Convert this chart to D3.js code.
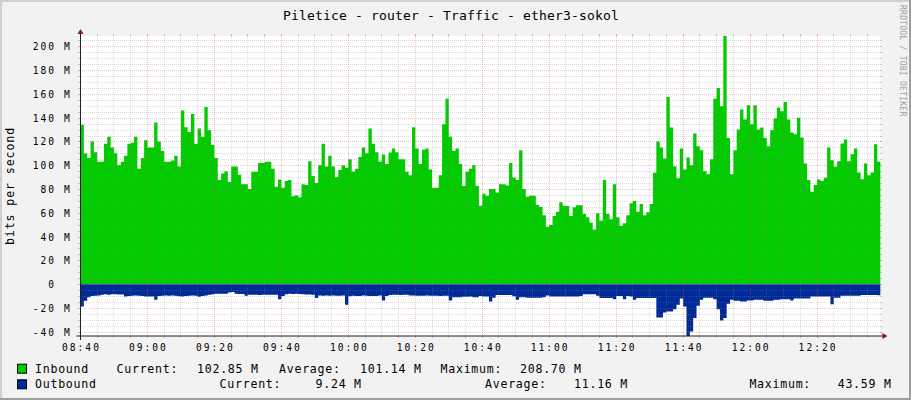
<!DOCTYPE html>
<html>
<head>
<meta charset="utf-8">
<script src="https://cdn.jsdelivr.net/npm/d3@7"></script>
<style>
  body { margin: 0; background: #f2f2f2; }
  svg text { font-family: "DejaVu Sans Mono", monospace; }
</style>
</head>
<body>
<svg id="chart" width="911" height="400"></svg>
<script>
// ---------------- DATA ----------------
const chartTitle = "Piletice - router - Traffic - ether3-sokol";
const yAxisTitle = "bits per second";
const watermark = "RRDTOOL / TOBI OETIKER";
const startHour = 8, startMinute = 40;   // first sample 08:40, one sample per minute
const spanMinutes = 238.95;             // visible time span

// Inbound traffic (Mbit/s), one value per minute from 08:40
const inbound = [
  134, 110, 106, 120, 111, 103, 103, 118, 124, 115,
  110, 100, 103, 108, 118, 119, 124, 97, 106, 121,
  115, 115, 136, 120, 112, 103, 103, 104, 108, 99,
  146, 132, 128, 143, 118, 131, 124, 149, 129.5, 117,
  106, 87.5, 93, 95, 86, 99, 99, 92, 84, 84,
  80, 94.5, 94.5, 102, 102, 103, 103, 97, 82, 88,
  81, 86.7, 87.5, 74, 74.7, 73, 84, 83.3, 103.4, 91,
  85, 100, 118, 99, 108, 99, 90, 96, 100, 98,
  105, 94.5, 97, 107, 115, 110, 131, 118, 111, 103,
  109, 101, 110.7, 114, 111, 105, 105, 94.5, 91.7, 132,
  114, 101, 113, 114, 96.5, 81, 81, 91.7, 134.5, 156,
  124, 112, 114, 101, 82.5, 94.5, 97, 100, 82.5, 66,
  76, 74.3, 80, 80, 77, 84, 84, 83, 102, 89.8,
  87.5, 112.7, 80, 73.5, 74.3, 74.3, 66.5, 65, 58, 48.3,
  49.7, 57.3, 61, 68.8, 66, 65.7, 57.3, 64.6, 66.3, 66.3,
  59, 56.2, 51.7, 46, 59.6, 53.4, 87.5, 59, 54.5, 84,
  56.2, 49, 51.2, 58, 68, 70, 61, 67.4, 58, 60.4,
  67.4, 93.6, 120, 115, 105.7, 157.4, 131.7, 99.2, 89, 114,
  96.5, 106.5, 100, 126.7, 116, 112.7, 95, 92.5, 105, 156,
  165, 149.6, 208.7, 123, 92.5, 112.7, 130, 146.8, 138.4, 150.4,
  134.5, 150.4, 130, 131.7, 123, 116, 129.4, 139.3, 148.5, 145.4,
  153.2, 138.4, 127.5, 126, 140, 123.3, 101.5, 87.5, 77.7, 83.3,
  88, 86.7, 89.4, 115, 104.3, 98.7, 103.4, 118.3, 121.6, 103.4,
  109.3, 114, 94, 88.3, 101.5, 91.7, 94, 117.7, 102.85
];

// Outbound traffic (Mbit/s), drawn below zero
const outbound = [
  18.8, 14, 11, 10, 9.8, 9.5, 9, 8.5, 8.8, 8.4,
  8.4, 8.6, 8.6, 10.4, 10, 9.8, 9.6, 9.8, 9.9, 10.4,
  10.4, 10.4, 13, 10, 9.8, 9.6, 9.8, 9.6, 9.8, 10.2,
  10.4, 10, 9.8, 9.6, 9.8, 10.6, 10, 9.6, 9, 8.4,
  8.1, 8.1, 8.1, 8.1, 7, 6.5, 8, 8.2, 8.2, 9.8,
  9, 9, 9, 9.2, 9, 9, 9, 8.8, 9, 12.6,
  10, 8.5, 8, 8.2, 8, 8.2, 8.4, 8.6, 8.6, 8.8,
  11.6, 9.5, 9.8, 9.6, 9.8, 9.6, 9.8, 9.8, 9.6, 17.4,
  10.2, 9.8, 10, 10, 9.6, 9.8, 10, 10, 10, 9.6,
  13.7, 10, 9.2, 9, 9, 9.2, 9, 9, 9.6, 9.6,
  9.8, 9.8, 9.8, 9.6, 9.8, 9.8, 9.8, 10, 9.8, 9.8,
  13.7, 11, 10.9, 10.9, 10.6, 10.6, 10.4, 10.9, 10.9, 10,
  10.4, 10.4, 14.6, 11.5, 9.2, 9.2, 9.2, 9.2, 9.2, 10.2,
  13.2, 11, 11, 11.5, 11.5, 11.5, 11.5, 11.5, 11, 9.6,
  10.4, 10.4, 10.4, 10.4, 10.4, 10.4, 10.4, 10.4, 10.4, 10,
  8.4, 8.4, 8.4, 8.4, 9.8, 11.7, 11.7, 11.7, 11.7, 12.6,
  10, 10, 12.6, 10, 10.4, 13.2, 11.7, 11.7, 11.7, 11.7,
  11.7, 11.7, 28, 28, 23.8, 23, 23, 21, 17.4, 12,
  18.8, 43.59, 39.8, 28.5, 18.2, 13.2, 11.5, 11.5, 11.5, 12.6,
  21, 30.5, 28.5, 16.5, 13.2, 14, 14, 14.6, 14.6, 13.7,
  13.7, 13.2, 13.2, 13.2, 14, 14, 14, 13.2, 13.2, 12.6,
  12.6, 12.6, 13.7, 12, 12, 12, 12, 12, 10.4, 10.4,
  10.4, 10.4, 10.4, 10.4, 16.8, 11.5, 11.5, 9.8, 9.8, 9.8,
  9.8, 9.8, 9.8, 9.2, 9.2, 9.2, 9.2, 9.2, 9.24
];

const yMajorTicks = [-40, -20, 0, 20, 40, 60, 80, 100, 120, 140, 160, 180, 200];
const yTickLabels = ["-40 M", "-20 M", "  0  ", " 20 M", " 40 M", " 60 M", " 80 M", "100 M", "120 M", "140 M", "160 M", "180 M", "200 M"];
const xTickLabels = ["08:40", "09:00", "09:20", "09:40", "10:00", "10:20", "10:40", "11:00", "11:20", "11:40", "12:00", "12:20"];

const seriesNames = ["Inbound", "Outbound"];
const seriesColors = ["#00CC00", "#002A97"];
const legendCurrent = ["102.85 M", "9.24 M"];
const legendAverage = ["101.14 M", "11.16 M"];
const legendMaximum = ["208.70 M", "43.59 M"];

// ---------------- LAYOUT ----------------
const W = 911, H = 400;
const X0 = 80.5, X1 = 880.5, Y0 = 336, Y1 = 36;
const C = {
  back: "#f2f2f2", shadeA: "#cfcfcf", shadeB: "#9e9e9e",
  grid: "rgba(143,143,143,0.3)", mgrid: "rgba(222,79,79,0.36)",
  gridTick: "rgba(143,143,143,0.5)", mgridTick: "rgba(222,79,79,0.5)",
  arrow: "#801f1f", axis: "#1f1f1f", font: "#000"
};

const svg = d3.select("#chart");
const defs = svg.append("defs");

// dotted-line patterns (1 px on, 1 px off)
function dotPattern(id, col, horiz) {
  const p = defs.append("pattern").attr("id", id).attr("patternUnits", "userSpaceOnUse")
    .attr("width", horiz ? 2 : 1).attr("height", horiz ? 1 : 2);
  p.append("rect").attr("width", 1).attr("height", 1).attr("fill", col);
}
dotPattern("hMinor", C.grid, true);
dotPattern("vMinor", C.grid, false);
dotPattern("hMajor", C.mgrid, true);
dotPattern("vMajor", C.mgrid, false);

// background + 3D frame
svg.append("rect").attr("x", 0).attr("y", 0).attr("width", W).attr("height", H).attr("fill", C.back);
svg.append("path").attr("d", `M0,0H${W}V2H2V${H}H0Z`).attr("fill", C.shadeA);
svg.append("path").attr("d", `M${W},${H}H0V${H - 2}H${W - 2}V0H${W}Z`).attr("fill", C.shadeB);

// canvas
svg.append("rect").attr("x", X0).attr("y", Y1).attr("width", X1 - X0).attr("height", Y0 - Y1).attr("fill", "#fff");

// scales
const t0 = new Date(2024, 0, 1, startHour, startMinute, 0);
const tAt = m => new Date(t0.getTime() + m * 60000);
const x = d3.scaleTime().domain([t0, tAt(spanMinutes)]).range([X0, X1]);
const y = d3.scaleLinear().domain([-d3.max(outbound), d3.max(inbound)]).range([Y0, Y1]);

defs.append("clipPath").attr("id", "plotclip")
  .append("rect").attr("x", X0).attr("y", Y1 - 1).attr("width", X1 - X0).attr("height", Y0 - Y1 + 1);

function series(vals, sign) {
  const pts = vals.map((v, i) => ({ t: tAt(i), v: sign * v }));
  pts.push({ t: tAt(vals.length), v: sign * vals[vals.length - 1] });
  return pts;
}
const area = d3.area().curve(d3.curveStepAfter)
  .x(d => x(d.t)).y0(y(0)).y1(d => y(d.v));

const plot = svg.append("g").attr("clip-path", "url(#plotclip)");
plot.append("path").attr("d", area(series(inbound, 1))).attr("fill", seriesColors[0]);
plot.append("path").attr("d", area(series(outbound, -1))).attr("fill", seriesColors[1]);

// grid (drawn on top of the data, like rrdtool)
const grid = svg.append("g").attr("shape-rendering", "crispEdges");
const [vmin, vmax] = y.domain();
const yMinor = d3.range(-40, vmax + 0.001, 5).filter(v => v >= vmin && v % 20 !== 0);
const xMinor = d3.timeMinute.every(5).range(t0, tAt(spanMinutes)).filter(d => d.getMinutes() % 20 !== 0);
const xMajor = d3.timeMinute.every(20).range(t0, tAt(spanMinutes));
const ry = v => Math.round(y(v));     // pixel row
const cx = t => Math.floor(x(t));     // pixel column
const gx0 = Math.ceil(X0), gx1 = Math.floor(X1);

function hline(v, pat, tick) {
  const r = ry(v);
  grid.append("rect").attr("x", gx0 + 1).attr("y", r).attr("width", gx1 - gx0 - 1).attr("height", 1)
    .attr("fill", `url(#${pat})`);
  grid.append("rect").attr("x", gx0 - 3).attr("y", r).attr("width", 2).attr("height", 1).attr("fill", tick);
  grid.append("rect").attr("x", gx1).attr("y", r).attr("width", 2).attr("height", 1).attr("fill", tick);
}
function vline(t, pat, tick) {
  const c = cx(t);
  grid.append("rect").attr("x", c).attr("y", Y1).attr("width", 1).attr("height", Y0 - Y1)
    .attr("fill", `url(#${pat})`);
  grid.append("rect").attr("x", c).attr("y", Y1 - 2).attr("width", 1).attr("height", 2).attr("fill", tick);
  grid.append("rect").attr("x", c).attr("y", Y0).attr("width", 1).attr("height", 2).attr("fill", tick);
}
yMinor.forEach(v => hline(v, "hMinor", C.gridTick));
xMinor.forEach(t => vline(t, "vMinor", C.gridTick));
yMajorTicks.forEach(v => hline(v, "hMajor", C.mgridTick));
xMajor.filter(t => x(t) > X0 + 1).forEach(t => vline(t, "vMajor", C.mgridTick));

// axes
svg.append("line").attr("x1", X0 - 4).attr("x2", X1 + 4).attr("y1", Y0).attr("y2", Y0)
  .attr("stroke", C.axis).attr("stroke-width", 1);
svg.append("line").attr("x1", X0).attr("x2", X0).attr("y1", Y0 + 4).attr("y2", Y1 - 4)
  .attr("stroke", C.axis).attr("stroke-width", 1).attr("shape-rendering", "crispEdges");
svg.append("path").attr("d", `M${X1 + 2},${Y0 - 3}L${X1 + 2},${Y0 + 3}L${X1 + 7},${Y0}Z`).attr("fill", C.arrow);
svg.append("path").attr("d", `M${X0 - 3},${Y1 - 2}L${X0 + 3},${Y1 - 2}L${X0},${Y1 - 7}Z`).attr("fill", C.arrow);

// axis labels
const axisFont = { size: 9.6, ls: 2.0 };
yMajorTicks.forEach((v, i) => {
  svg.append("text").attr("x", 32.8).attr("y", y(v) + 4)
    .style("white-space", "pre")
    .attr("font-size", axisFont.size).attr("letter-spacing", axisFont.ls)
    .attr("fill", C.font).text(yTickLabels[i]);
});
xMajor.forEach((t, i) => {
  svg.append("text").attr("x", x(t) + axisFont.ls / 2).attr("y", 350.5)
    .attr("text-anchor", "middle")
    .attr("font-size", axisFont.size).attr("letter-spacing", axisFont.ls)
    .attr("fill", C.font).text(xTickLabels[i]);
});

// title
svg.append("text").attr("x", 451).attr("y", 19.5).attr("text-anchor", "middle")
  .attr("font-size", 13).attr("letter-spacing", 0.17).attr("fill", C.font).text(chartTitle);

// vertical axis title
svg.append("text").attr("transform", "translate(14,186) rotate(-90)").attr("text-anchor", "middle")
  .attr("font-size", 11.6).attr("letter-spacing", 0.9).attr("fill", C.font).text(yAxisTitle);

// watermark
svg.append("text").attr("transform", "translate(900,5) rotate(90)")
  .attr("font-size", 8).attr("letter-spacing", 0.25).attr("fill", "#a0a0a0").text(watermark);

// legend
const legFont = { size: 11.6, ls: 0.73 };
const legendRowsY = [372.7, 388.3];
const legendCols = [
  { name: 35, cur: 116.5, curV: 197, avg: 279, avgV: 360, max: 440.5, maxV: 520 },
  { name: 35, cur: 219.6, curV: 315.5, avg: 485, avgV: 574, max: 749.4, maxV: 837.7 }
];
seriesNames.forEach((name, i) => {
  const by = legendRowsY[i];
  const c = legendCols[i];
  svg.append("rect").attr("x", 17.5).attr("y", by - 8.5).attr("width", 9).attr("height", 9)
    .attr("fill", seriesColors[i]).attr("stroke", "#000").attr("stroke-width", 1);
  const items = [
    [c.name, name], [c.cur, "Current:"], [c.curV, legendCurrent[i]],
    [c.avg, "Average:"], [c.avgV, legendAverage[i]],
    [c.max, "Maximum:"], [c.maxV, legendMaximum[i]]
  ];
  items.forEach(([lx, s]) => {
    svg.append("text").attr("x", lx).attr("y", by)
      .attr("font-size", legFont.size).attr("letter-spacing", legFont.ls)
      .attr("fill", C.font).text(s);
  });
});
</script>
</body>
</html>
